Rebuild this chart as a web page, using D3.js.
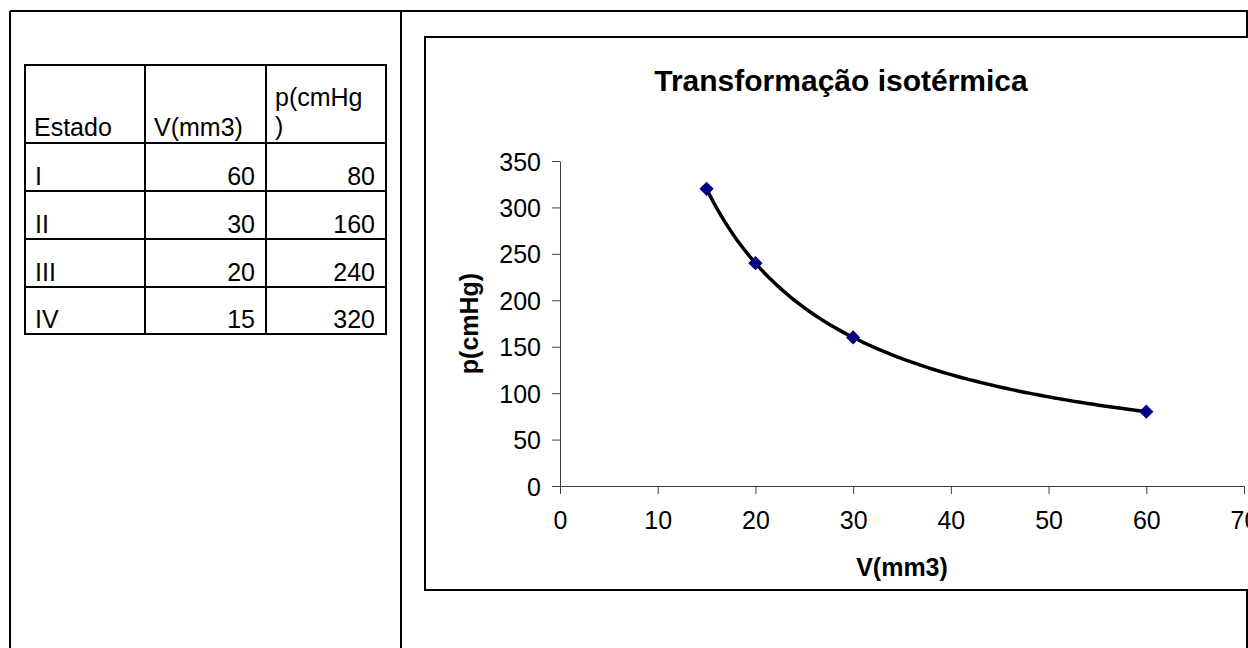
<!DOCTYPE html>
<html>
<head>
<meta charset="utf-8">
<script src="https://cdn.jsdelivr.net/npm/d3@7/dist/d3.min.js"></script>
<style>
  html, body { margin: 0; padding: 0; background: #fff; }
  svg { display: block; font-family: "Liberation Sans", Arial, sans-serif; }
</style>
</head>
<body>
<svg id="sheet" width="1248" height="648"></svg>
<script>
// Isothermal transformation data (Boyle's law): state, volume, pressure
const estados = ["I", "II", "III", "IV"];
const volumes = [60, 30, 20, 15];
const pressoes = [80, 160, 240, 320];
const xTicks = [0, 10, 20, 30, 40, 50, 60, 70];
const yTicks = [0, 50, 100, 150, 200, 250, 300, 350];
const cabecalho = ["Estado", "V(mm3)", ["p(cmHg", ")"]];

const svg = d3.select("#sheet");

// ---- spreadsheet cell borders behind everything ----
const frame = svg.append("g").attr("stroke", "#000").attr("stroke-width", 2);
frame.append("line").attr("x1", 10).attr("y1", 11).attr("x2", 1248).attr("y2", 11);
[10, 401, 1247].forEach(x =>
  frame.append("line").attr("x1", x).attr("y1", 11).attr("x2", x).attr("y2", 648));

// ---- data table ----
const colX = [25, 145, 266, 386];
const rowY = [65, 143, 191, 239, 287, 334];
const table = svg.append("g");
const grid = table.append("g").attr("stroke", "#000").attr("stroke-width", 2);
colX.forEach(x => grid.append("line").attr("x1", x).attr("y1", rowY[0]).attr("x2", x).attr("y2", rowY[rowY.length - 1]));
rowY.forEach(y => grid.append("line").attr("x1", colX[0] - 1).attr("y1", y).attr("x2", colX[colX.length - 1] + 1).attr("y2", y));

const tfont = 25;
cabecalho.forEach((h, i) => {
  const t = table.append("text").attr("font-size", tfont).attr("fill", "#000");
  if (Array.isArray(h)) {
    h.forEach((line, k) => t.append("tspan").attr("x", colX[i] + 9).attr("y", rowY[1] - 37 + k * 29).text(line));
  } else {
    t.attr("x", colX[i] + 9).attr("y", rowY[1] - 7).text(h);
  }
});
estados.forEach((e, r) => {
  const base = rowY[r + 2] - 6;
  table.append("text").attr("font-size", tfont).attr("x", colX[0] + 10).attr("y", base).text(e);
  table.append("text").attr("font-size", tfont).attr("text-anchor", "end")
    .attr("x", colX[2] - 11).attr("y", base).text(volumes[r]);
  table.append("text").attr("font-size", tfont).attr("text-anchor", "end")
    .attr("x", colX[3] - 11).attr("y", base).text(pressoes[r]);
});

// ---- chart object ----
const chart = svg.append("g");
chart.append("rect")
  .attr("x", 425).attr("y", 37).attr("width", 860).attr("height", 553)
  .attr("fill", "#fff").attr("stroke", "#000").attr("stroke-width", 2);

chart.append("text")
  .attr("x", 841).attr("y", 91).attr("text-anchor", "middle")
  .attr("font-size", 30).attr("font-weight", "bold")
  .text("Transformação isotérmica");

const x = d3.scaleLinear().domain([0, 70]).range([560, 1244]);
const y = d3.scaleLinear().domain([0, 350]).range([486, 161]);

const xAxis = chart.append("g").attr("transform", `translate(0,${y(0)})`)
  .call(d3.axisBottom(x).tickValues(xTicks).tickSize(8).tickSizeOuter(0).tickPadding(24));
const yAxis = chart.append("g").attr("transform", `translate(${x(0)},0)`)
  .call(d3.axisLeft(y).tickValues(yTicks).tickSize(8).tickSizeOuter(0).tickPadding(11));

[xAxis, yAxis].forEach(a => {
  a.select(".domain").attr("stroke", "#404040").attr("stroke-width", 1);
  a.selectAll(".tick line").attr("stroke", "#404040").attr("stroke-width", 1);
  a.selectAll(".tick text").attr("font-size", 25).attr("fill", "#000")
    .attr("font-family", "Liberation Sans, Arial, sans-serif");
});
xAxis.selectAll(".tick text").attr("dy", "0.45em");
yAxis.selectAll(".tick text").attr("dy", "0.36em");

chart.append("text")
  .attr("x", (x.range()[0] + x.range()[1]) / 2).attr("y", 576)
  .attr("text-anchor", "middle").attr("font-size", 25).attr("font-weight", "bold")
  .text("V(mm3)");
chart.append("text")
  .attr("transform", `translate(478,${(y.range()[0] + y.range()[1]) / 2}) rotate(-90)`)
  .attr("text-anchor", "middle").attr("font-size", 25).attr("font-weight", "bold")
  .text("p(cmHg)");

// power-law trendline p = a * V^b, least squares in log-log space
const lx = volumes.map(Math.log), ly = pressoes.map(Math.log);
const mx = d3.mean(lx), my = d3.mean(ly);
const b = d3.sum(lx, (v, i) => (v - mx) * (ly[i] - my)) / d3.sum(lx, v => (v - mx) * (v - mx));
const a = Math.exp(my - b * mx);
const [vMin, vMax] = d3.extent(volumes);
const ajuste = d3.range(0, 121).map(k => {
  const v = vMin + (vMax - vMin) * k / 120;
  return { v, p: a * Math.pow(v, b) };
});
const linha = d3.line().x(d => x(d.v)).y(d => y(d.p));
chart.append("path").datum(ajuste)
  .attr("d", linha).attr("fill", "none").attr("stroke", "#000")
  .attr("stroke-width", 3.5).attr("stroke-linejoin", "round");

const pontos = volumes.map((v, i) => ({ v, p: pressoes[i] }));
chart.append("g").selectAll("path").data(pontos).join("path")
  .attr("transform", d => `translate(${x(d.v)},${y(d.p)})`)
  .attr("d", d3.symbol(d3.symbolDiamond2, 130))
  .attr("fill", "#000080");
</script>
</body>
</html>
